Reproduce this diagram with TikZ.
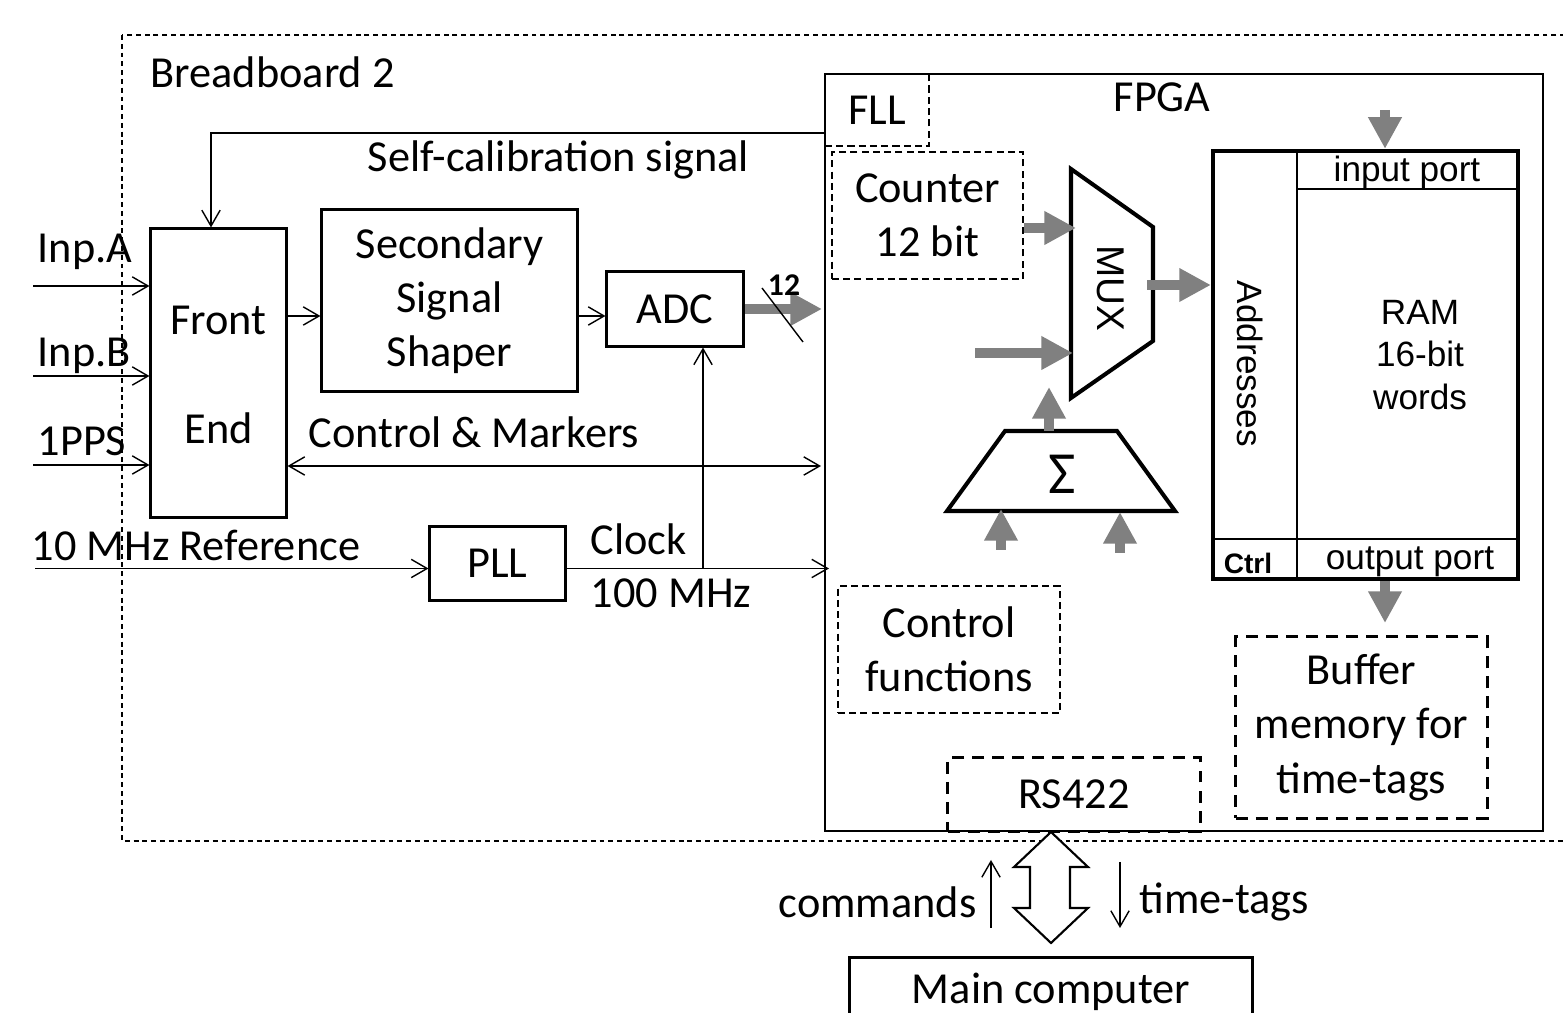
\documentclass[tikz,border=0pt]{standalone}
\usepackage{fontspec}
\setmainfont{Carlito}
\newfontfamily\arialf{Liberation Sans}
\usetikzlibrary{arrows.meta}
\definecolor{garrowc}{RGB}{128,128,128}
\newcommand\mainsz{\fontsize{12.6}{15.4}\selectfont}
\tikzset{
  box/.style={draw, line width=0.85pt, inner sep=0pt, align=center, font=\mainsz},
  dbox/.style={draw, line width=0.4pt, dash pattern=on 2pt off 1.2pt, inner sep=0pt, align=center, font=\mainsz},
  tdbox/.style={draw, line width=0.85pt, dash pattern=on 3.4pt off 2.3pt, inner sep=0pt, align=center, font=\mainsz},
  txt/.style={inner sep=0pt, font=\mainsz},
  lab/.style={inner sep=0pt, anchor=base west, font=\mainsz},
  arr/.style={line width=0.4pt, -{Straight Barb[length=4.5pt,width=5.2pt]}},
  darr/.style={line width=0.4pt, {Straight Barb[length=4.5pt,width=5.2pt]}-{Straight Barb[length=4.5pt,width=5.2pt]}},
  garr/.style={draw=garrowc, line width=3.1pt, -{Triangle[length=9pt,width=9pt,fill=garrowc]}},
  ramtxt/.style={inner sep=0pt, font=\arialf\fontsize{10}{12}\selectfont, align=center},
}
\begin{document}
\begin{tikzpicture}[x=0.01cm,y=-0.01cm]
\clip (0,0) rectangle (1563,1013);
\fill[white] (0,0) rectangle (1563,1013);

% Breadboard frame
\draw[line width=0.4pt, dash pattern=on 1.4pt off 1.1pt] (122,35) rectangle (1620,841);
\node[lab] (bb) at (150,88) {Breadboard 2};

% FPGA frame
\node[draw, line width=0.5pt, minimum width=7.18cm, minimum height=7.57cm, inner sep=0pt] (FPGA) at (1184,452.5) {};
\node[lab] (fpgal) at (1113,112) {FPGA};

% Left blocks
\node[box, minimum width=1.35cm, minimum height=2.88cm] (FE) at (218.5,373) {};
\node[txt] (fe1) at (218.5,320) {Front};
\node[txt] (fe2) at (218.5,428) {End};
\node[box, minimum width=2.55cm, minimum height=1.81cm] (SSS) at (449.5,300.5) {Secondary\\Signal\\Shaper};
\node[box, minimum width=1.36cm, minimum height=0.74cm] (ADC) at (675,309) {ADC};
\node[box, minimum width=1.35cm, minimum height=0.73cm] (PLL) at (497.5,563.5) {PLL};

% FPGA inner blocks
\node[dbox, minimum width=1.04cm, minimum height=0.72cm] (FLL) at (877,110) {FLL};
\node[dbox, minimum width=1.91cm, minimum height=1.27cm] (CNT) at (927.5,215.5) {Counter\\12 bit};
\node[dbox, minimum width=2.22cm, minimum height=1.27cm] (CF) at (949,649.5) {Control\\functions};
\node[tdbox, minimum width=2.52cm, minimum height=0.73cm] (RS) at (1074,794.5) {RS422};
\node[tdbox, minimum width=2.51cm, minimum height=1.81cm] (BUF) at (1361.5,727.5) {Buffer\\memory for\\time-tags};

% RAM
\node[draw, line width=1.15pt, minimum width=3.05cm, minimum height=4.28cm, inner sep=0pt] (RAM) at (1365.5,365) {};
\draw[line width=0.4pt] (1297,151) -- (1297,579);
\draw[line width=0.4pt] (1297,189) -- (1518,189);
\draw[line width=0.4pt] (1213,539) -- (1518,539);
\node[ramtxt] (inport) at (1407,172) {input port};
\node[ramtxt] (outport) at (1410,562) {output port};
\node[inner sep=0pt, font=\arialf\bfseries\fontsize{8}{9}\selectfont] (ctrl) at (1248,563) {Ctrl};
\node[ramtxt] (ramlab) at (1420,355) {RAM\\16-bit\\words};
\node[inner sep=0pt, font=\arialf\fontsize{10}{12}\selectfont, rotate=-90] (addr) at (1250,364) {Addresses};

% MUX
\draw[line width=1.15pt, line join=miter] (1071,169) -- (1153,227) -- (1153,341) -- (1071,398) -- cycle;
\node[inner sep=0pt, font=\arialf\fontsize{11}{12}\selectfont, rotate=-90] (mux) at (1111,288) {MUX};
% Sigma
\draw[line width=1.15pt, line join=miter] (1005,431) -- (1117,431) -- (1175,511) -- (947,511) -- cycle;
\node[inner sep=0pt, font=\fontsize{17}{18}\selectfont] (sig) at (1062,474) {Σ};

% Main computer
\node[box, minimum width=4.02cm, minimum height=1.2cm, anchor=north] (MC) at (1051,956) {};
\node[inner sep=0pt, anchor=base, font=\mainsz] (mcl) at (1051,1004) {Main computer};

% inputs
\coordinate (ina) at (33,286);
\coordinate (inb) at (33,376);
\coordinate (inp) at (33,465);
\coordinate (inr) at (35,568.5);
\draw[arr] (ina) -- (ina -| FE.west);
\draw[arr] (inb) -- (inb -| FE.west);
\draw[arr] (inp) -- (inp -| FE.west);
\draw[arr] (inr) -- (inr -| PLL.west);
\node[lab] (la) at (37,263) {Inp.A};
\node[lab] (lb) at (37,367) {Inp.B};
\node[lab] (lp) at (37,456) {1PPS};
\node[lab] (lr) at (31,561) {10 MHz Reference};

% self-calibration
\coordinate (sc) at (211,133);
\draw[arr] (FLL.west |- sc) -- (sc) -- (sc |- FE.north);
\node[lab] (scl) at (367,172) {Self-calibration signal};

% signal chain
\coordinate (sy) at (0,316);
\draw[arr] (FE.east |- sy) -- (SSS.west |- sy);
\draw[arr] (SSS.east |- sy) -- (ADC.west |- sy);
\coordinate (adco) at (822,309);
\draw[garr] (ADC.east |- adco) -- (adco);
\draw[line width=0.4pt] (762,288) -- (803,342);
\node[inner sep=0pt, font=\bfseries\fontsize{9}{10}\selectfont] (twelve) at (784,285) {12};

% control & markers
\coordinate (cm) at (821,466);
\draw[darr] (FE.east |- cm) -- (cm);
\node[lab] (cml) at (308,448) {Control \& Markers};

% clock
\coordinate (clk) at (829,568.5);
\coordinate (clkj) at (703,568.5);
\draw[arr] (PLL.east |- clk) -- (clk);
\draw[arr] (clkj) -- (clkj |- ADC.south);
\node[lab] (clkl) at (590,555) {Clock};
\node[lab] (clkm) at (590,608) {100 MHz};

% gray arrows inside FPGA
\coordinate (m1) at (1076,228);
\draw[garr] (CNT.east |- m1) -- (m1);
\coordinate (m2s) at (975,353);
\coordinate (m2) at (1073,353);
\draw[garr] (m2s) -- (m2);
\coordinate (mo) at (1147,285);
\draw[garr] (mo) -- (RAM.west |- mo);
\coordinate (st) at (1049,431);
\coordinate (mb) at (1049,387);
\draw[garr] (st) -- (mb);
\coordinate (s1s) at (1001,550);
\coordinate (s1) at (1001,509);
\draw[garr] (s1s) -- (s1);
\coordinate (s2s) at (1120,553);
\coordinate (s2) at (1120,512);
\draw[garr] (s2s) -- (s2);
\coordinate (ri) at (1385,110);
\draw[garr] (ri) -- (ri |- RAM.north);
\coordinate (ro) at (1385,623);
\draw[garr] (ro |- RAM.south) -- (ro);

% RS422 <-> main computer
\draw[line width=0.6pt, fill=white, line join=miter] (1051,832) -- (1088,867) -- (1070,867) -- (1070,908) -- (1088,908) -- (1051,943) -- (1014,908) -- (1030,908) -- (1030,867) -- (1014,867) -- cycle;
\coordinate (cmdb) at (991,928);
\coordinate (cmdt) at (991,860);
\draw[arr] (cmdb) -- (cmdt);
\coordinate (ttt) at (1120,862);
\coordinate (ttb) at (1120,928);
\draw[arr] (ttt) -- (ttb);
\node[lab] (cmdl) at (778,918) {commands};
\node[lab] (ttl) at (1139,914) {time-tags};
\end{tikzpicture}
\end{document}
